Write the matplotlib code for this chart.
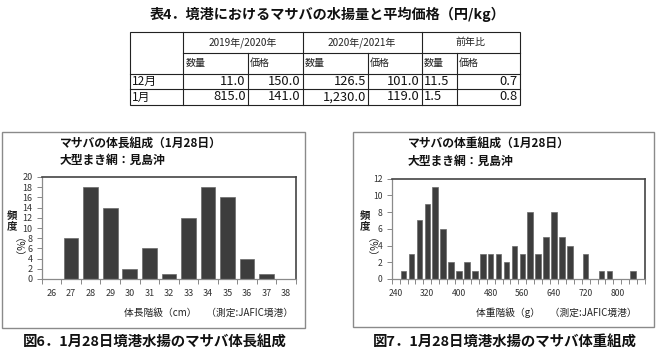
import matplotlib
matplotlib.use("Agg")
import matplotlib.pyplot as plt
from matplotlib.patches import Rectangle
from matplotlib.ticker import FixedLocator, NullFormatter

plt.rcParams['font.family'] = ['Noto Sans CJK JP', 'DejaVu Sans']

# ---------------- data ----------------
table_title = "表4．境港におけるマサバの水揚量と平均価格（円/kg）"
period_headers = ["2019年/2020年", "2020年/2021年", "前年比"]
sub_headers = ["数量", "価格", "数量", "価格", "数量", "価格"]
months = ["12月", "1月"]
qty_2019 = [11.0, 815.0]
price_2019 = [150.0, 141.0]
qty_2020 = [126.5, 1230.0]
price_2020 = [101.0, 119.0]
ratio_qty = [11.5, 1.5]
ratio_price = [0.7, 0.8]

len_classes = [26, 27, 28, 29, 30, 31, 32, 33, 34, 35, 36, 37, 38]
len_freq = [0, 8, 18, 14, 2, 6, 1, 12, 18, 16, 4, 1, 0]

wt_classes = list(range(240, 861, 20))
wt_freq = [0, 1, 3, 7, 9, 11, 6, 2, 1, 2, 1, 3, 3, 3, 2, 4,
           3, 8, 3, 5, 8, 5, 4, 0, 3, 0, 1, 1, 0, 0, 1, 0]

len_title = "マサバの体長組成（1月28日）\n大型まき網：見島沖"
wt_title = "マサバの体重組成（1月28日）\n大型まき網：見島沖"
len_xlabel = "体長階級（cm）　（測定:JAFIC境港）"
wt_xlabel = "体重階級（g）　（測定:JAFIC境港）"
len_caption = "図6．1月28日境港水揚のマサバ体長組成"
wt_caption = "図7．1月28日境港水揚のマサバ体重組成"

# ---------------- figure ----------------
W, H = 658, 361
fig = plt.figure(figsize=(W / 100, H / 100), dpi=100)
fig.patch.set_facecolor('white')

bg = fig.add_axes([0, 0, 1, 1])
bg.set_xlim(0, W)
bg.set_ylim(H, 0)
bg.axis('off')
bg.set_zorder(-1)

# ---- table ----
bg.text(328, 14.5, table_title, ha='center', va='center', fontsize=10.2,
        fontweight='bold', color='#111111')
cols = [130, 183.3, 247.7, 302.7, 368.3, 421.7, 456.7, 520]
rows = [31.5, 53, 73.5, 89, 105]
lc = '#222222'
lw = 0.8
bg.add_patch(Rectangle((cols[0], rows[0]), cols[-1] - cols[0], rows[-1] - rows[0],
                       fill=False, ec=lc, lw=lw))
bg.plot([cols[1], cols[-1]], [rows[1], rows[1]], color=lc, lw=lw)
for r in rows[2:4]:
    bg.plot([cols[0], cols[-1]], [r, r], color=lc, lw=lw)
for c in [cols[1], cols[3], cols[5]]:
    bg.plot([c, c], [rows[0], rows[-1]], color=lc, lw=lw)
for c in [cols[2], cols[4], cols[6]]:
    bg.plot([c, c], [rows[1], rows[-1]], color=lc, lw=lw)

for i, h in enumerate(period_headers):
    x0, x1 = cols[1 + 2 * i], cols[3 + 2 * i]
    bg.text((x0 + x1) / 2, (rows[0] + rows[1]) / 2, h, ha='center', va='center',
            fontsize=7.2, color='#222222')
for i, h in enumerate(sub_headers):
    bg.text(cols[1 + i] + 2, (rows[1] + rows[2]) / 2, h, ha='left', va='center',
            fontsize=7.2, color='#222222')

for j, m in enumerate(months):
    yc = (rows[2 + j] + rows[3 + j]) / 2
    bg.text(cols[0] + 2, yc, m, ha='left', va='center', fontsize=8.5, color='#111111')
    vals = [qty_2019[j], price_2019[j], qty_2020[j], price_2020[j]]
    for k, v in enumerate(vals):
        bg.text(cols[2 + k] - 2, yc, f"{v:,.1f}", ha='right', va='center',
                fontsize=9.3, color='#111111')
    bg.text(cols[5] + 2, yc, f"{ratio_qty[j]:.1f}", ha='left', va='center',
            fontsize=9.3, color='#111111')
    bg.text(cols[7] - 2, yc, f"{ratio_price[j]:.1f}", ha='right', va='center',
            fontsize=9.3, color='#111111')

# ---- chart frames ----
frame_c = '#8a8a8a'
bg.add_patch(Rectangle((1.5, 131.7), 303, 196, fill=False, ec=frame_c, lw=1))
bg.add_patch(Rectangle((352.7, 131.7), 301, 195.3, fill=False, ec=frame_c, lw=1))

# titles
bg.text(60, 152, len_title, ha='left', va='center', fontsize=8.5,
        fontweight='bold', linespacing=1.45, color='#111111')
bg.text(408, 152.5, wt_title, ha='left', va='center', fontsize=8.5,
        fontweight='bold', linespacing=1.45, color='#111111')

# x labels
bg.text(293, 313, len_xlabel, ha='right', va='center', fontsize=7, color='#222222')
bg.text(637, 313, wt_xlabel, ha='right', va='center', fontsize=7, color='#222222')

# y labels
for xl in (12, 365):
    bg.text(xl, 221, "頻\n度", ha='center', va='center', fontsize=7.5,
            fontweight='bold', linespacing=1.05, color='#222222')
    bg.text(xl, 253, "（%）", ha='center', va='center', fontsize=7.5,
            rotation=270, color='#222222')

# captions
bg.text(155, 343, len_caption, ha='center', va='center', fontsize=10.4,
        fontweight='bold', color='#111111')
bg.text(505, 343, wt_caption, ha='center', va='center', fontsize=10.4,
        fontweight='bold', color='#111111')


def px_axes(x0, y0, x1, y1):
    return fig.add_axes([x0 / W, 1 - y1 / H, (x1 - x0) / W, (y1 - y0) / H])


def style(ax, n, ymax, ystep, label_idx, labels, fs):
    ax.set_xlim(-0.5, n - 0.5)
    ax.set_ylim(0, ymax)
    ax.set_yticks(range(0, ymax + 1, ystep))
    ax.tick_params(axis='y', length=3.5, width=0.7, color='#888888', pad=3,
                   labelsize=fs, labelcolor='#333333')
    ax.xaxis.set_major_locator(FixedLocator(label_idx))
    ax.set_xticklabels(labels)
    ax.xaxis.set_minor_locator(FixedLocator([i + 0.5 for i in range(-1, n)]))
    ax.xaxis.set_minor_formatter(NullFormatter())
    ax.tick_params(axis='x', which='major', length=0, pad=7, labelsize=fs,
                   labelcolor='#333333')
    ax.tick_params(axis='x', which='minor', length=3.5, width=0.7, color='#888888',
                   direction='out')
    for s in ('left', 'bottom'):
        ax.spines[s].set_color('#8a8a8a')
        ax.spines[s].set_linewidth(0.9)
    for s in ('top', 'right'):
        ax.spines[s].set_color('#444444')
        ax.spines[s].set_linewidth(1.2)
    ax.set_facecolor('white')


# ---- length chart ----
ax1 = px_axes(41.7, 177, 296, 279)
ax1.bar(range(len(len_classes)), len_freq, width=0.75, color='#3d3d3d',
        edgecolor='#6a6a6a', linewidth=0.5)
style(ax1, len(len_classes), 20, 2, list(range(len(len_classes))),
      [str(c) for c in len_classes], 6.5)

# ---- weight chart ----
ax2 = px_axes(391.7, 178.5, 645, 279)
ax2.bar(range(len(wt_classes)), wt_freq, width=0.7, color='#3d3d3d',
        edgecolor='#6a6a6a', linewidth=0.5)
idx = list(range(0, len(wt_classes), 4))
style(ax2, len(wt_classes), 12, 2, idx, [str(wt_classes[i]) for i in idx], 6.2)

fig.savefig("out.png", dpi=100)
